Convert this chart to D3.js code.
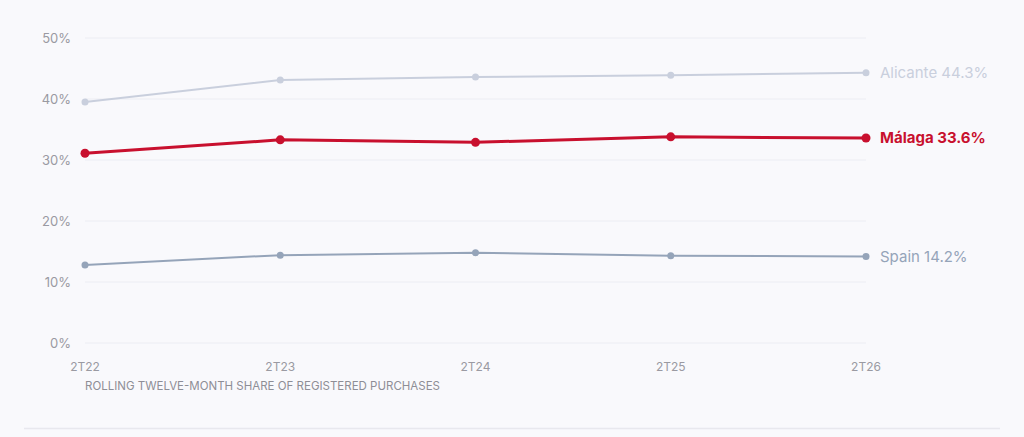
<!DOCTYPE html>
<html lang="en">
<head>
<meta charset="UTF-8">
<title>Rolling twelve-month share of registered purchases</title>
<script src="https://cdn.jsdelivr.net/npm/d3@7/dist/d3.min.js"></script>
<style>
  html, body { margin: 0; padding: 0; background: #f9f9fc; }
  svg { display: block; font-family: "Inter", "Lato", sans-serif; }
</style>
</head>
<body>
<script>
  // data
  var quarters = ["2T22", "2T23", "2T24", "2T25", "2T26"];
  var alicante = [39.5, 43.1, 43.6, 43.9, 44.3];
  var malaga = [31.1, 33.3, 32.9, 33.8, 33.6];
  var spain = [12.8, 14.4, 14.8, 14.3, 14.2];
  var yTicks = [0, 10, 20, 30, 40, 50];
  var caption = "Rolling twelve-month share of registered purchases";

  var series = [
    { name: "Alicante", values: alicante, color: "#c9cfdd", width: 2, r: 3.5, bold: false },
    { name: "Spain", values: spain, color: "#95a4b9", width: 2, r: 3.5, bold: false },
    { name: "Málaga", values: malaga, color: "#c8102e", width: 3, r: 4.5, bold: true }
  ];

  var width = 1024, height = 437;
  var svg = d3.select("body").append("svg")
    .attr("width", width)
    .attr("height", height);

  var x = d3.scalePoint().domain(quarters).range([85, 866]);
  var y = d3.scaleLinear().domain([0, 50]).range([343, 38]);

  // grid
  svg.append("g").selectAll("line")
    .data(yTicks)
    .enter().append("line")
    .attr("x1", 85).attr("x2", 866)
    .attr("y1", function (d) { return y(d); })
    .attr("y2", function (d) { return y(d); })
    .attr("stroke", "#ecedf3")
    .attr("stroke-width", 1);

  // y axis labels
  svg.append("g").selectAll("text")
    .data(yTicks)
    .enter().append("text")
    .attr("x", 71)
    .attr("y", function (d) { return y(d); })
    .attr("dy", "0.35em")
    .attr("text-anchor", "end")
    .attr("font-size", 13)
    .attr("fill", "#9a9aa2")
    .text(function (d) { return d + "%"; });

  // x axis labels
  svg.append("g").selectAll("text")
    .data(quarters)
    .enter().append("text")
    .attr("x", function (d) { return x(d); })
    .attr("y", 367)
    .attr("dy", "0.35em")
    .attr("text-anchor", "middle")
    .attr("font-size", 12)
    .attr("fill", "#9a9aa2")
    .text(function (d) { return d; });

  svg.append("text")
    .attr("x", 85)
    .attr("y", 386)
    .attr("dy", "0.35em")
    .attr("font-size", 11.5)
    .attr("fill", "#8e8e96")
    .text(caption.toUpperCase());

  // lines
  var line = d3.line()
    .x(function (d, i) { return x(quarters[i]); })
    .y(function (d) { return y(d); });

  series.forEach(function (s) {
    var g = svg.append("g");
    g.append("path")
      .attr("d", line(s.values))
      .attr("fill", "none")
      .attr("stroke", s.color)
      .attr("stroke-width", s.width);
    g.selectAll("circle")
      .data(s.values)
      .enter().append("circle")
      .attr("cx", function (d, i) { return x(quarters[i]); })
      .attr("cy", function (d) { return y(d); })
      .attr("r", s.r)
      .attr("fill", s.color);
    var last = s.values[s.values.length - 1];
    g.append("text")
      .attr("x", x(quarters[quarters.length - 1]) + 14)
      .attr("y", y(last))
      .attr("dy", "0.35em")
      .attr("font-size", 15)
      .attr("font-weight", s.bold ? 700 : 400)
      .attr("fill", s.color)
      .text(s.name + " " + last.toFixed(1) + "%");
  });

  // bottom rule
  svg.append("line")
    .attr("x1", 24).attr("x2", 1000)
    .attr("y1", 428.5).attr("y2", 428.5)
    .attr("stroke", "#e8e8ee")
    .attr("stroke-width", 1.5);
</script>
</body>
</html>
